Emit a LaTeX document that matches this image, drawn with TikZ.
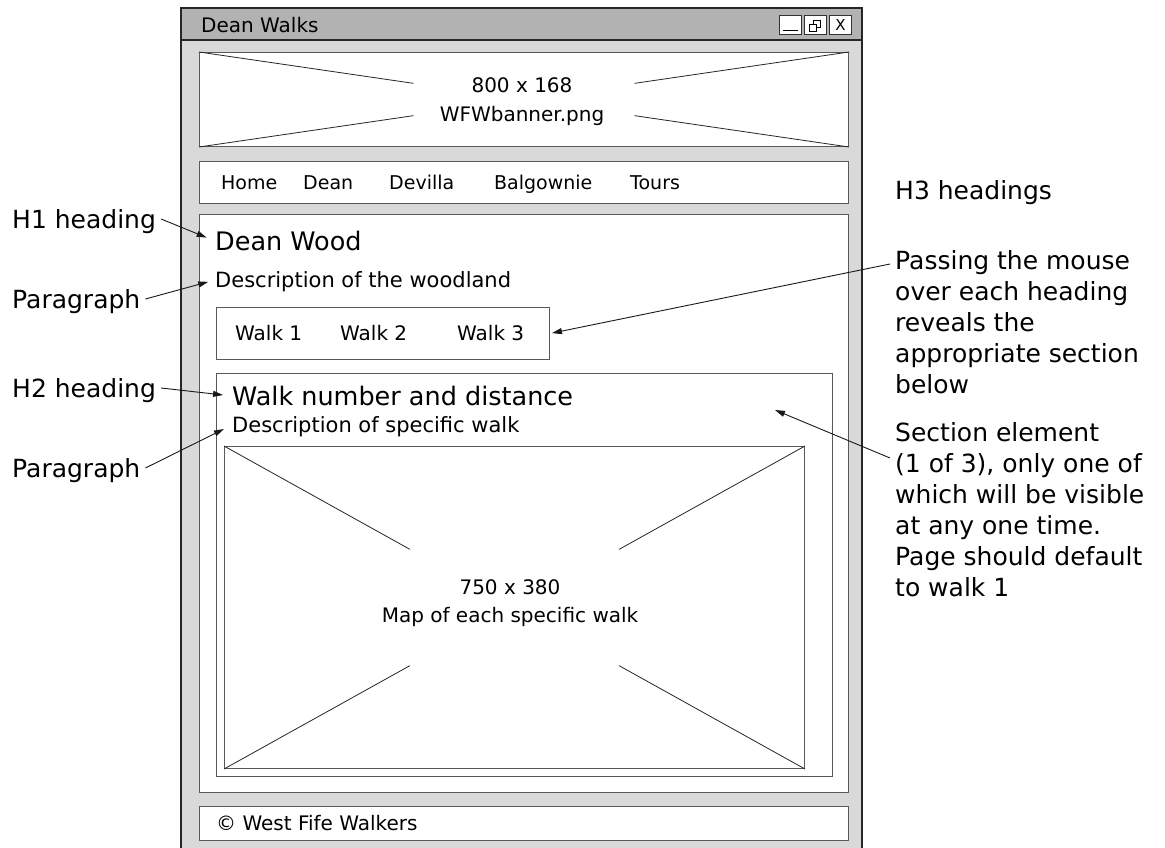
\documentclass[tikz,border=0pt]{standalone}
\usepackage{fontspec}
\setmainfont{DejaVu Sans}
\usetikzlibrary{arrows.meta, positioning, calc}

\begin{document}
\begin{tikzpicture}[
    x=1pt, y=-1pt,
    % Styles
    window/.style = {draw=black!85, line width=1.4pt},
    titlebar/.style = {window, fill=black!30},
    winbody/.style = {window, fill=black!15},
    panel/.style = {rectangle, draw=black!65, line width=1pt, fill=white, inner sep=0pt, anchor=north west},
    winbtn/.style = {panel, draw=black!80, minimum width=22pt, minimum height=19pt},
    cross/.style = {draw=black!85, line width=0.8pt},
    imgtxt/.style = {inner sep=0pt, align=center, font=\fontsize{20}{29}\selectfont},
    txt/.style = {inner sep=0pt, anchor=west, text height=14.4pt, text depth=0pt, font=\fontsize{20}{24}\selectfont},
    navitem/.style = {txt, text height=13.7pt, font=\fontsize{19}{23}\selectfont},
    heading/.style = {txt, text height=18.4pt, font=\fontsize{25.5}{30}\selectfont},
    para/.style = {txt, text height=15.1pt, font=\fontsize{21}{25}\selectfont},
    note/.style = {inner xsep=5pt, inner ysep=0pt, anchor=west, text height=18pt, text depth=0pt, font=\fontsize{25}{31}\selectfont},
    notebox/.style = {inner xsep=5pt, inner ysep=0pt, align=left, anchor=north west, font=\fontsize{25}{31}\selectfont},
    arrow/.style = {-{Triangle[length=10pt,width=6pt]}, line width=0.9pt, draw=black!90}
]

\useasboundingbox (0,0) rectangle (1165,848);

% --- WINDOW ---
\draw[winbody] (181,40) rectangle (862,870);
\draw[titlebar] (181,8) rectangle (862,40);
\node[txt] (title) at (201,25) {Dean Walks};

\node[winbtn] (minbtn) at (779,15) {};
\node[winbtn, right=2pt of minbtn] (maxbtn) {};
\node[winbtn, right=2pt of maxbtn, font=\fontsize{15}{15}\selectfont] (closebtn) {X};
\draw[line width=1pt] ($(minbtn.south west)+(4,-4)$) -- ($(minbtn.south east)+(-4,-4)$);
\draw[line width=0.8pt] ($(maxbtn.center)+(-2,-5)$) rectangle ($(maxbtn.center)+(5,2)$);
\draw[line width=0.8pt, fill=white] ($(maxbtn.center)+(-6,-1)$) rectangle ($(maxbtn.center)+(1,6)$);

% --- BANNER ---
\node[panel, minimum width=649pt, minimum height=94pt] (banner) at (199,52) {};
\draw[cross] (banner.north west) -- ($(banner.north west)!0.33!(banner.south east)$);
\draw[cross] (banner.south west) -- ($(banner.south west)!0.33!(banner.north east)$);
\draw[cross] (banner.north east) -- ($(banner.north east)!0.33!(banner.south west)$);
\draw[cross] (banner.south east) -- ($(banner.south east)!0.33!(banner.north west)$);
\node[imgtxt] (bannertxt) at (522,102) {800 x 168\\WFWbanner.png};

% --- NAVIGATION ---
\node[panel, minimum width=649pt, minimum height=42pt] (nav) at (199,161) {};
\node[navitem] (home) at (221,183) {Home};
\node[navitem] (dean) at (303,183) {Dean};
\node[navitem] (devilla) at (389,183) {Devilla};
\node[navitem] (balgownie) at (494,183) {Balgownie};
\node[navitem] (tours) at (630,183) {Tours};

% --- CONTENT ---
\node[panel, minimum width=649pt, minimum height=578pt] (content) at (199,214) {};
\node[heading] (deanwood) at (215,241) {Dean Wood};
\node[para] (woodland) at (215,280) {Description of the woodland};

\node[panel, minimum width=333pt, minimum height=52pt] (tabs) at (216,307) {};
\node[txt] (walk1) at (235,333) {Walk 1};
\node[txt] (walk2) at (340,333) {Walk 2};
\node[txt] (walk3) at (457,333) {Walk 3};

\node[panel, minimum width=616pt, minimum height=403pt] (section) at (216,373) {};
\node[heading] (walkhead) at (232,396) {Walk number and distance};
\node[para] (walkdesc) at (232,425) {Description of specific walk};

\node[panel, minimum width=580pt, minimum height=322pt] (map) at (224,446) {};
\draw[cross] (map.north west) -- ($(map.north west)!0.32!(map.south east)$);
\draw[cross] (map.south west) -- ($(map.south west)!0.32!(map.north east)$);
\draw[cross] (map.north east) -- ($(map.north east)!0.32!(map.south west)$);
\draw[cross] (map.south east) -- ($(map.south east)!0.32!(map.north west)$);
\node[imgtxt, font=\fontsize{20}{28}\selectfont] (maptxt) at (510,603) {750 x 380\\Map of each specific walk};

% --- FOOTER ---
\node[panel, minimum width=649pt, minimum height=34pt] (footer) at (199,806) {};
\node[txt] (copyright) at (216,823) {© West Fife Walkers};

% --- ANNOTATIONS ---
\node[note] (h1lbl) at (7,219) {H1 heading};
\node[note] (paralbl) at (7,299) {Paragraph};
\node[note] (h2lbl) at (7,388) {H2 heading};
\node[note] (paralbltwo) at (7,468) {Paragraph};
\node[note] (h3lbl) at (890,191) {H3 headings};
\node[notebox] (passing) at (890,250) {Passing the mouse\\over each heading\\reveals the\\appropriate section\\below};
\node[notebox] (secnote) at (890,422) {Section element\\(1 of 3), only one of\\which will be visible\\at any one time.\\Page should default\\to walk 1};
\coordinate (secpt) at (775,410);

\draw[arrow, shorten >=9pt] (h1lbl.east) -- (deanwood.west);
\draw[arrow, shorten >=7pt] (paralbl.east) -- (woodland.west);
\draw[arrow, shorten >=9pt] (h2lbl.east) -- (walkhead.west);
\draw[arrow, shorten >=9pt] (paralbltwo.east) -- (walkdesc.west);
\draw[arrow, shorten >=2pt] ([yshift=-14pt]passing.north west) -- (tabs.east);
\draw[arrow] ([yshift=-36pt]secnote.north west) -- (secpt);

\end{tikzpicture}
\end{document}
